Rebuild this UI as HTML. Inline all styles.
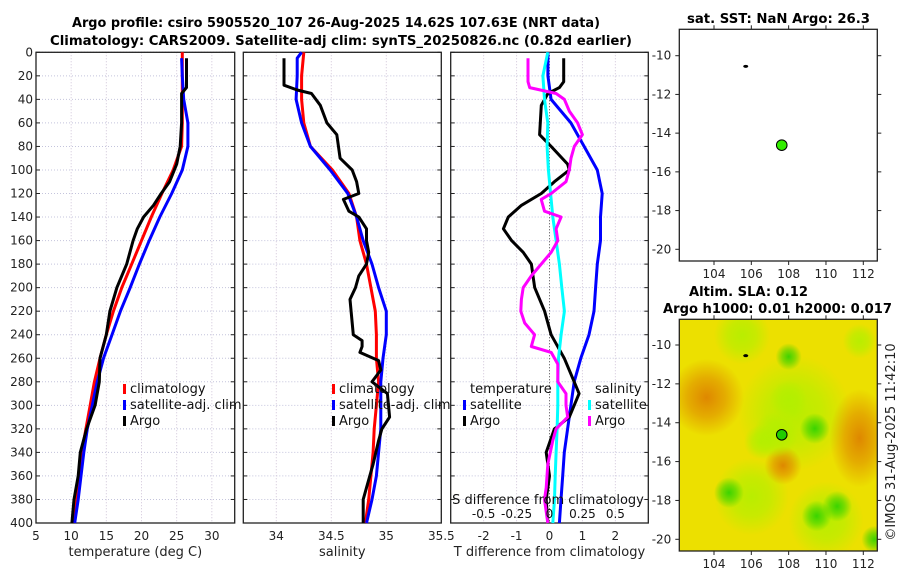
<!DOCTYPE html>
<html><head><meta charset="utf-8"><style>
body{margin:0;background:#fff;}
svg{display:block;font-family:"DejaVu Sans","Liberation Sans",sans-serif;}
</style></head><body>
<svg id="chart" width="900" height="580" viewBox="0 0 900 580" xmlns="http://www.w3.org/2000/svg">
<text x="72" y="27" textLength="528" lengthAdjust="spacingAndGlyphs" font-size="13" font-weight="bold">Argo profile: csiro 5905520_107 26-Aug-2025 14.62S 107.63E (NRT data)</text>
<text x="50" y="45" textLength="582" lengthAdjust="spacingAndGlyphs" font-size="13" font-weight="bold">Climatology: CARS2009. Satellite-adj clim: synTS_20250826.nc (0.82d earlier)</text>
<text x="687" y="23" textLength="183" lengthAdjust="spacingAndGlyphs" font-size="13" font-weight="bold">sat. SST: NaN Argo: 26.3</text>
<text x="689" y="296" textLength="119" lengthAdjust="spacingAndGlyphs" font-size="13" font-weight="bold">Altim. SLA: 0.12</text>
<text x="663" y="313" textLength="229" lengthAdjust="spacingAndGlyphs" font-size="13" font-weight="bold">Argo h1000: 0.01 h2000: 0.017</text>
<text transform="translate(895,442) rotate(-90)" text-anchor="middle" font-size="13" fill="#222">©IMOS 31-Aug-2025 11:42:10</text>
<g id="g"></g>
</svg>
<script>
// ---- data ----
const depthTick = [0,20,40,60,80,100,120,140,160,180,200,220,240,260,280,300,320,340,360,380,400];
const tTicks = [5,10,15,20,25,30];
const sTicks = [34,34.5,35,35.5];
const dTicks = [-2,-1,0,1,2];
const sdTicks = [-0.5,-0.25,0,0.25,0.5];
const sdTickLabels = ['-0.5','-0.25','0','0.25','0.5'];
const latTicks = [-10,-12,-14,-16,-18,-20];
const lonTicks = [104,106,108,110,112];

const zStd = [0,20,40,60,80,100,120,140,160,180,200,220,240,260,280,300,320,340,360,380,400];
const tClim = [25.8,25.8,25.8,25.8,25.7,24.5,22.9,21.4,20.0,18.6,17.2,16.0,15.0,14.1,13.3,12.7,12.1,11.5,11.1,10.8,10.4];
const zSat = [5,20,40,60,80,100,120,140,160,180,200,220,240,260,280,300,320,340,360,380,400];
const tSat = [25.7,25.8,26.0,26.6,26.6,25.8,24.3,22.6,21.1,19.7,18.4,17.0,15.8,14.6,13.7,13.0,12.3,11.8,11.4,11.0,10.5];
const zArgoT = [5,30,35,60,80,95,110,120,130,140,150,160,180,200,220,240,260,280,300,320,340,360,380,400];
const tArgo = [26.4,26.4,25.7,25.7,25.5,25.0,24.0,22.8,21.7,20.3,19.4,18.8,17.9,16.5,15.5,15.0,14.1,14.0,13.4,12.2,11.3,11.0,10.4,10.1];

const sClim = [34.25,34.23,34.23,34.25,34.31,34.51,34.66,34.73,34.76,34.82,34.86,34.90,34.91,34.91,34.93,34.91,34.89,34.88,34.86,34.84,34.81];
const zSatS = [0,5,20,40,60,80,100,120,140,160,180,200,220,240,260,280,300,320,340,360,380,400];
const sSat = [34.23,34.19,34.19,34.18,34.23,34.31,34.49,34.65,34.73,34.79,34.87,34.93,35.0,35.0,34.97,34.95,34.95,34.95,34.93,34.91,34.87,34.82];
const zArgoS = [5,28,32,35,45,60,70,90,100,110,120,125,135,140,150,160,170,180,190,200,210,220,240,245,250,255,262,270,280,290,300,310,320,330,350,360,370,380,400];
const sArgo = [34.07,34.07,34.19,34.32,34.40,34.46,34.55,34.58,34.69,34.73,34.75,34.61,34.66,34.75,34.82,34.82,34.84,34.82,34.75,34.72,34.67,34.68,34.70,34.78,34.78,34.76,34.93,34.95,34.87,35.01,35.02,35.03,34.96,34.93,34.88,34.85,34.82,34.79,34.79];

const tSatDiff = [-0.05,-0.05,0.05,0.65,1.05,1.45,1.6,1.55,1.55,1.45,1.4,1.35,1.2,0.95,0.75,0.65,0.55,0.45,0.4,0.35,0.3];
const zArgoDT = [5,25,30,35,45,70,80,95,100,110,120,130,140,150,160,170,180,190,200,220,240,260,280,290,300,310,320,340,360,380,400];
const tArgoDiff = [0.43,0.43,0.3,-0.05,-0.25,-0.3,0.05,0.55,0.6,0.15,-0.25,-0.85,-1.25,-1.4,-1.15,-0.8,-0.55,-0.5,-0.45,-0.15,0.05,0.45,0.75,0.9,0.75,0.6,0.15,-0.1,0,-0.1,-0.05];
const sSatDiff = [-0.013,-0.05,-0.038,-0.013,-0.018,-0.008,0.008,0.025,0.05,0.075,0.093,0.113,0.088,0.068,0.063,0.063,0.058,0.05,0.043,0.038,0.025];
const zArgoDS = [5,25,30,35,40,50,60,70,80,90,100,110,120,125,135,140,150,160,170,180,190,200,210,220,230,240,250,255,265,280,290,300,310,320,330,350,370,380,400];
const sArgoDiff = [-0.163,-0.163,-0.15,0.05,0.113,0.15,0.213,0.25,0.188,0.163,0.15,0.125,0.013,-0.063,-0.038,0.088,0.05,0.063,0.013,-0.063,-0.138,-0.2,-0.213,-0.218,-0.188,-0.113,-0.138,0.013,0.063,0.063,0.125,0.125,0.138,0.05,0.025,-0.013,-0.025,-0.038,-0.013];

const argoLon = [107.63], argoLat = [-14.62];
const prevLon = [105.7], prevLat = [-10.55];
// SLA blobs: lon, lat, radius(deg), kind
const blobLon = [108.3,106.0,110.0,103.6,111.8,107.7,104.8,109.4,110.6,108.0,112.6,109.5,108.0,111.8,107.3,106.5,105.5];
const blobLat = [-13.5,-17.8,-19.0,-12.7,-14.8,-16.2,-17.6,-14.3,-18.3,-10.6,-20.0,-18.8,-12.8,-9.8,-14.6,-15.0,-9.5];
const blobR = [3.0,2.0,2.0,2.0,1.6,1.0,0.8,0.8,0.8,0.7,0.7,0.8,1.0,0.9,1.2,0.9,1.5];
const blobKind = ['mid','mid','mid','hi','hi','hi','lo','lo','lo','lo','lo','lo','mid','mid','mid','mid','mid'];

// ---- drawing ----
const NS='http://www.w3.org/2000/svg';
const G=document.getElementById('g');
function mk(tag,attrs,parent){const e=document.createElementNS(NS,tag);for(const k in attrs)e.setAttribute(k,attrs[k]);(parent||G).appendChild(e);return e;}
const Y0=52.3,Y1=523;
const yD=d=>Y0+(Y1-Y0)*d/400;

function panel(name,x0,x1,xmin,xmax,ticks,labels,xlabel,showY){
  const sx=v=>x0+(x1-x0)*(v-xmin)/(xmax-xmin);
  const g=mk('g',{});
  
  
  depthTick.forEach(d=>{
    const l=mk('line',{x1:x0,x2:x1,y1:yD(d),y2:yD(d),stroke:'#c4c4dc','stroke-width':1,'stroke-dasharray':'1,2'},g);
    
    
    mk('line',{x1:x0,x2:x0+4,y1:yD(d),y2:yD(d),stroke:'#222'},g);
    mk('line',{x1:x1,x2:x1-4,y1:yD(d),y2:yD(d),stroke:'#222'},g);
    if(showY){const t=mk('text',{x:x0-3,y:yD(d)+4,'text-anchor':'end','font-size':12,fill:'#222'},g);t.textContent=d;
      
      }
  });
  ticks.forEach((v,i)=>{
    const l=mk('line',{x1:sx(v),x2:sx(v),y1:Y0,y2:Y1,stroke:'#d0c4d8','stroke-width':1,'stroke-dasharray':'1,2'},g);
    
    
    const t=mk('text',{x:sx(v),y:Y1+17,'text-anchor':'middle','font-size':12,fill:'#222'},g);t.textContent=labels[i];
    
    
  });
  const xl=mk('text',{x:(x0+x1)/2,y:Y1+33,'text-anchor':'middle','font-size':13,fill:'#222'},g);xl.textContent=xlabel;
  
  
  mk('rect',{x:x0,y:Y0,width:x1-x0,height:Y1-Y0,fill:'none',stroke:'#222','stroke-width':1.3},g);
  return sx;
}
function line(name,xs,zs,sx,color){
  const p=mk('polyline',{points:xs.map((v,i)=>sx(v).toFixed(1)+','+yD(zs[i]).toFixed(1)).join(' '),fill:'none',stroke:color,'stroke-width':3,'stroke-linejoin':'round'});
  
  
}
function legendItem(name,x,y,color,label){
  const g=mk('g',{});
  
  
  if(color) mk('rect',{x:x-7,y:y-9,width:3,height:10,fill:color},g);
  const t=mk('text',{x:x,y:y,'font-size':13,fill:'#111'},g);t.textContent=label;
}

const sxT=panel('temperature-panel',36,234.7,5,5+198.7/21.1*3,tTicks,tTicks.map(String),'temperature (deg C)',true);
line('temp-climatology-line',tClim,zStd,sxT,'#f00');
line('temp-satellite-line',tSat,zSat,sxT,'#00f');
line('temp-argo-line',tArgo,zArgoT,sxT,'#000');
legendItem('legend-climatology',130,393,'#f00','climatology');
legendItem('legend-satellite-adj',130,409,'#00f','satellite-adj. clim');
legendItem('legend-argo',130,425,'#000','Argo');

const sxS=panel('salinity-panel',243.3,441.3,33.7,35.5,sTicks,['34','34.5','35','35.5'],'salinity',false);
line('sal-climatology-line',sClim,zStd,sxS,'#f00');
line('sal-satellite-line',sSat,zSatS,sxS,'#00f');
line('sal-argo-line',sArgo,zArgoS,sxS,'#000');
legendItem('legend-climatology-s',339,393,'#f00','climatology');
legendItem('legend-satellite-adj-s',339,409,'#00f','satellite-adj. clim');
legendItem('legend-argo-s',339,425,'#000','Argo');

const sxD=panel('difference-panel',450.7,648.3,-3,3,dTicks,dTicks.map(String),'T difference from climatology',false);
const sxSD=v=>sxD(v*4);
mk('line',{x1:sxD(0),x2:sxD(0),y1:Y0,y2:Y1,stroke:'#555','stroke-width':1,'stroke-dasharray':'1,2'});
line('tdiff-satellite-line',tSatDiff,zStd,sxD,'#00f');
line('tdiff-argo-line',tArgoDiff,zArgoDT,sxD,'#000');
line('sdiff-satellite-line',sSatDiff,zStd,sxSD,'#0ff');
line('sdiff-argo-line',sArgoDiff,zArgoDS,sxSD,'#f0f');
(function(){const t=mk('text',{x:470,y:393,'font-size':13,fill:'#111'});t.textContent='temperature';
 
 const s=mk('text',{x:595,y:393,'font-size':13,fill:'#111'});s.textContent='salinity';
 })();
legendItem('legend-t-satellite',470,409,'#00f','satellite');
legendItem('legend-t-argo',470,425,'#000','Argo');
legendItem('legend-s-satellite',595,409,'#0ff','satellite');
legendItem('legend-s-argo',595,425,'#f0f','Argo');
(function(){const t=mk('text',{x:548,y:504,'text-anchor':'middle','font-size':13,fill:'#111'});t.textContent='S difference from climatology';
 
 sdTicks.forEach((v,i)=>{const l=mk('text',{x:sxSD(v),y:518,'text-anchor':'middle','font-size':12,fill:'#111'});l.textContent=sdTickLabels[i];
 });})();

// maps
function map(name,y0,y1,lat10y,lat20y,heat){
  const x0=679.3,x1=877.3;
  const sx=v=>714+(v-104)*(863.3-714)/8;
  const sy=v=>lat10y+(v+10)*(lat20y-lat10y)/(-10);
  const g=mk('g',{});
  
  
  const cid='clip'+name;
  const cp=mk('clipPath',{id:cid},g);mk('rect',{x:x0,y:y0,width:x1-x0,height:y1-y0},cp);
  if(heat){
    const defs=mk('defs',{},g);
    const cols={hi:'#dc7800',lo:'#22d000',mid:'#b0f000'};
    ['hi','lo','mid'].forEach(k=>{const rg=mk('radialGradient',{id:'rg'+k},defs);
      mk('stop',{offset:'0','stop-color':cols[k],'stop-opacity':0.85},rg);
      mk('stop',{offset:'0.5','stop-color':cols[k],'stop-opacity':k==='mid'?0.6:0.5},rg);
      mk('stop',{offset:'1','stop-color':cols[k],'stop-opacity':0},rg);});
    const hg=mk('g',{'clip-path':'url(#'+cid+')'},g);
    mk('rect',{x:x0,y:y0,width:x1-x0,height:y1-y0,fill:'#ece000'},hg);
    blobLon.forEach((lo,i)=>{const e=mk('ellipse',{cx:sx(lo),cy:sy(blobLat[i]),rx:blobR[i]*18.7,ry:blobR[i]*19.3*(i===4?1.6:1),fill:'url(#rg'+blobKind[i]+')'},hg);
      });
  }
  latTicks.forEach(v=>{mk('line',{x1:x0,x2:x0-4,y1:sy(v),y2:sy(v),stroke:'#222'},g);mk('line',{x1:x1,x2:x1+4,y1:sy(v),y2:sy(v),stroke:'#222'},g);
    const t=mk('text',{x:x0-8,y:sy(v)+4,'text-anchor':'end','font-size':12,fill:'#222'},g);t.textContent=v;
    });
  lonTicks.forEach(v=>{mk('line',{x1:sx(v),x2:sx(v),y1:y0,y2:y0-4,stroke:'#222'},g);mk('line',{x1:sx(v),x2:sx(v),y1:y1,y2:y1+4,stroke:'#222'},g);
    const t=mk('text',{x:sx(v),y:y1+17,'text-anchor':'middle','font-size':12,fill:'#222'},g);t.textContent=v;
    });
  mk('rect',{x:x0,y:y0,width:x1-x0,height:y1-y0,fill:'none',stroke:'#222','stroke-width':1.3},g);
  const pv=mk('ellipse',{cx:sx(prevLon[0]),cy:sy(prevLat[0]),rx:2.5,ry:1.5,fill:'#000'},g);
  
  const dot=mk('circle',{cx:sx(argoLon[0]),cy:sy(argoLat[0]),r:5.3,fill:heat?'#22cc00':'#33ee00',stroke:'#000','stroke-width':1},g);
  
}
map('sst-map',29.3,261,55.7,249.3,false);
map('sla-map',319.3,551,345,539.3,true);
</script>
</body></html>
